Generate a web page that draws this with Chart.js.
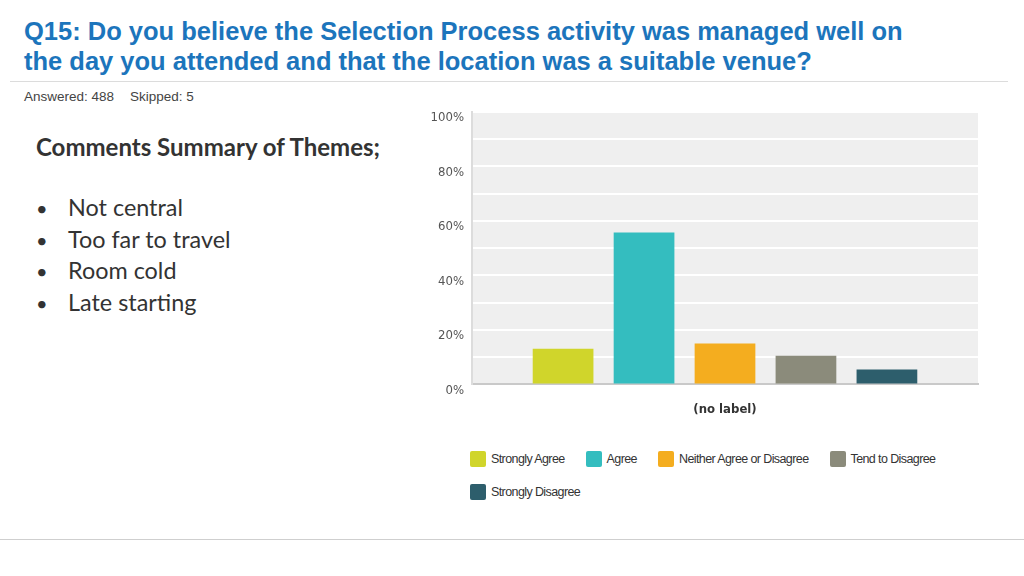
<!DOCTYPE html>
<html>
<head>
<meta charset="utf-8">
<script src="https://cdn.jsdelivr.net/npm/chart.js@4/dist/chart.umd.min.js"></script>
<style>
  html, body { margin: 0; padding: 0; background: #fff; }
  body { width: 1024px; height: 576px; position: relative; overflow: hidden; font-family: "Liberation Sans", Arial, sans-serif; }
  #title { position: absolute; left: 24px; top: 16px; color: #1c75bc; font-weight: bold; font-size: 25.5px; line-height: 30px; }
  #rule1 { position: absolute; left: 10px; width: 998px; top: 81px; border-top: 1px solid #dcdcdc; }
  #answered { position: absolute; left: 24px; top: 89px; font-size: 13.5px; color: #444; }
  #answered span { margin-left: 16px; }
  #themes { position: absolute; left: 36px; top: 132px; color: #333; font-family: Lato, "Open Sans", sans-serif; }
  #themes h3 { margin: 0 0 30px 0; font-size: 24px; line-height: 30px; font-weight: bold; }
  #themes ul { margin: 0; padding: 0; list-style: none; font-size: 23.4px; line-height: 30.7px; }
  #themes li:before { content: "\2022"; display: inline-block; width: 32px; font-size: 20px; }
  #chartBox { position: absolute; left: 420px; top: 96px; width: 570px; height: 334px; }
  #legend { position: absolute; left: 470px; top: 450px; width: 510px; display: flex; flex-wrap: wrap; row-gap: 15px;
            font-size: 12.5px; letter-spacing: -0.6px; color: #333; }
  .item { display: flex; align-items: center; margin-right: 21px; height: 18px; }
  .box { width: 16px; height: 16px; border-radius: 2px; margin-right: 5px; }
  #rule2 { position: absolute; left: 0; width: 1024px; top: 539px; border-top: 1px solid #cfcfcf; }
</style>
</head>
<body>
<div id="title">Q15: Do you believe the Selection Process activity was managed well on<br>the day you attended and that the location was a suitable venue?</div>
<div id="rule1"></div>
<div id="answered">Answered: 488<span>Skipped: 5</span></div>
<div id="themes">
  <h3>Comments Summary of Themes;</h3>
  <ul id="themeList"></ul>
</div>
<div id="chartBox"><canvas id="myChart"></canvas></div>
<div id="legend"></div>
<div id="rule2"></div>

<script>
const categories = [''];
const seriesNames = ['Strongly Agree', 'Agree', 'Neither Agree or Disagree', 'Tend to Disagree', 'Strongly Disagree'];
const seriesValues = [13.1, 55.7, 15.0, 10.5, 5.5];
const seriesColors = ['#d0d52b', '#34bdbf', '#f4ad1f', '#8b8b7b', '#2d5e6c'];
const yTicks = [0, 20, 40, 60, 80, 100];
const themes = ['Not central', 'Too far to travel', 'Room cold', 'Late starting'];

const narrow = '"DejaVu Sans Condensed", "Liberation Sans", sans-serif';

document.getElementById('themeList').innerHTML = themes.map(t => '<li>' + t + '</li>').join('');

document.getElementById('legend').innerHTML = seriesNames.map((n, i) =>
  '<div class="item"><div class="box" style="background:' + seriesColors[i] + '"></div>' + n + '</div>').join('');

const plotBg = {
  id: 'plotBg',
  beforeDraw(chart) {
    const a = chart.chartArea, ctx = chart.ctx;
    ctx.save();
    ctx.fillStyle = '#efefef';
    ctx.fillRect(a.left, a.top, a.right - a.left, a.bottom - a.top);
    ctx.restore();
  }
};

const data = {
  labels: categories,
  datasets: seriesNames.map((n, i) => ({
    label: n,
    data: [seriesValues[i]],
    backgroundColor: seriesColors[i],
    categoryPercentage: 0.8,
    barPercentage: 0.75
  }))
};

new Chart(document.getElementById('myChart'), {
  type: 'bar',
  data: data,
  plugins: [plotBg],
  options: {
    responsive: true,
    maintainAspectRatio: false,
    animation: false,
    layout: { padding: { left: 10, right: 12, top: 4, bottom: 13 } },
    plugins: {
      legend: { display: false },
      tooltip: { enabled: false }
    },
    scales: {
      x: {
        grid: { display: false },
        border: { display: true, color: '#c9c9c9', width: 2 },
        ticks: { display: false },
        title: { display: true, text: '(no label)', color: '#333',
                 font: { family: narrow, size: 13, weight: 'bold' }, padding: { top: 9, bottom: 0 } }
      },
      y: {
        min: 0,
        max: 100,
        afterFit(scale) { scale.width = 42; },
        afterBuildTicks(scale) {
          const t = [];
          for (let v = 0; v <= 100; v += 10) t.push({ value: v });
          scale.ticks = t;
        },
        grid: { color: '#ffffff', lineWidth: 2, drawTicks: false },
        border: { display: true, color: '#dcdcdc', width: 2 },
        ticks: {
          padding: 8,
          labelOffset: 6,
          color: '#555',
          font: { family: narrow, size: 13 },
          callback: v => yTicks.includes(v) ? v + '%' : ''
        }
      }
    }
  }
});
</script>
</body>
</html>
